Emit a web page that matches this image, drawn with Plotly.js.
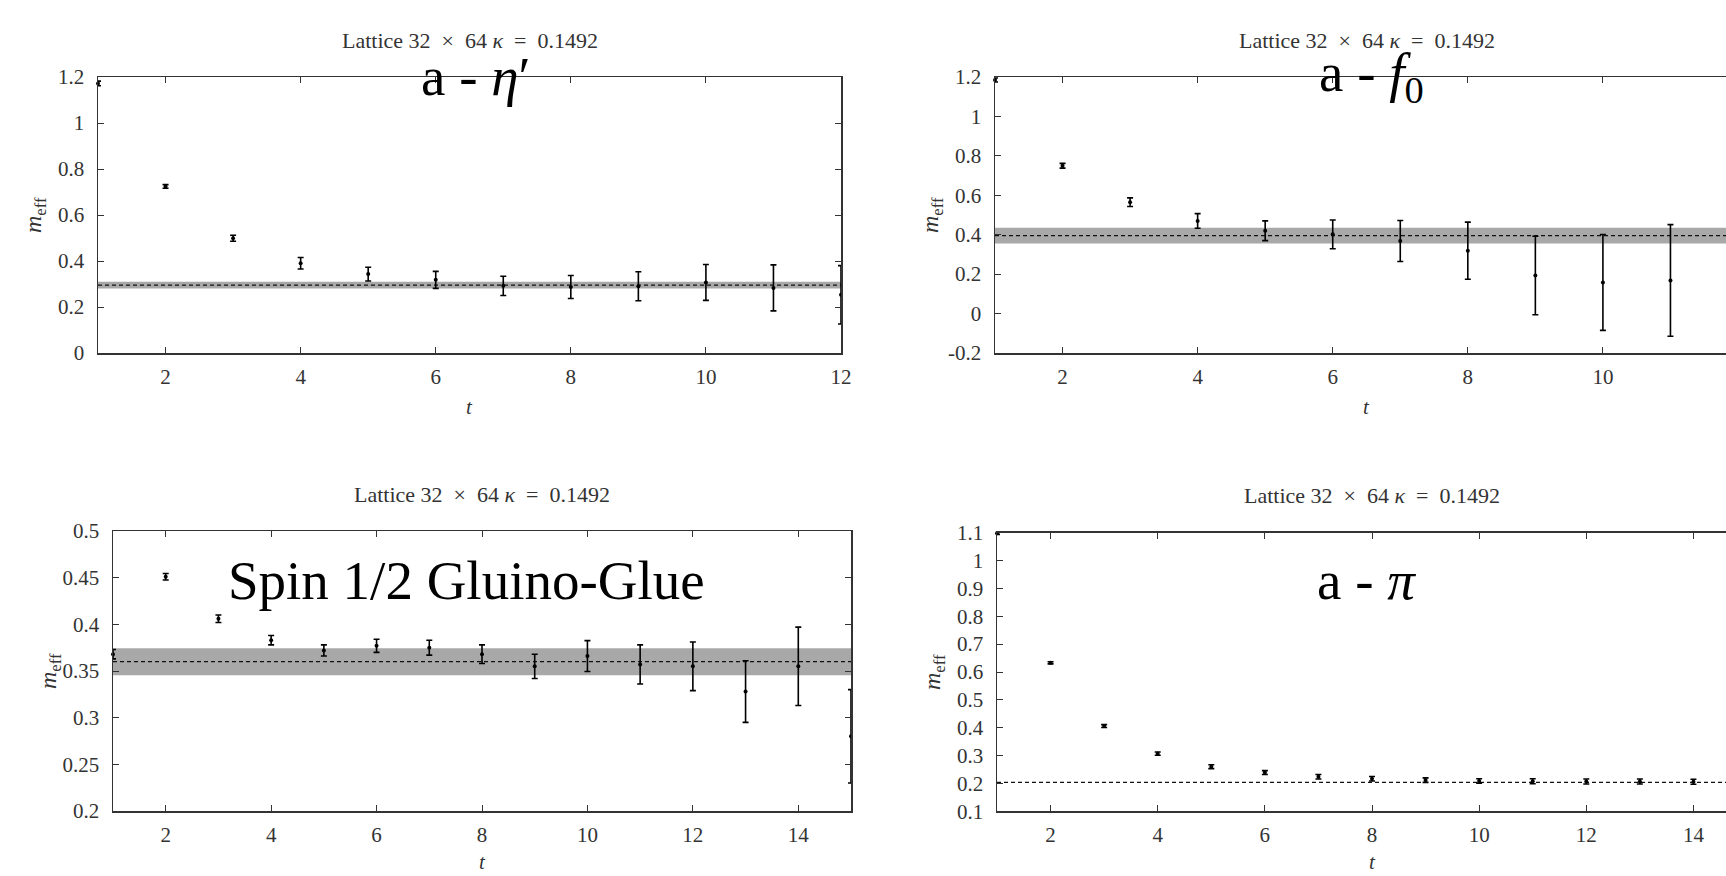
<!DOCTYPE html>
<html>
<head>
<meta charset="utf-8">
<script src="https://cdn.plot.ly/plotly-3.0.1.min.js"></script>
<style>
html,body{margin:0;padding:0;overflow:hidden;background:#fff;}
#plot{width:1760px;height:876px;}
</style>
</head>
<body>
<div id="plot"></div>
<script>
// ---------- data ----------
const etaT   = [1,2,3,4,5,6,7,8,9,10,11,12];
const etaM   = [1.172,0.724,0.499,0.390,0.343,0.318,0.292,0.287,0.290,0.307,0.283,0.253];
const etaErr = [0.010,0.008,0.013,0.025,0.030,0.037,0.042,0.050,0.063,0.078,0.100,0.127];
const etaFit = 0.295, etaFitErr = 0.015;

const f0T   = [1,2,3,4,5,6,7,8,9,10,11];
const f0M   = [1.185,0.750,0.565,0.470,0.420,0.402,0.368,0.319,0.193,0.158,0.168];
const f0Err = [0.010,0.012,0.022,0.037,0.050,0.073,0.104,0.145,0.199,0.243,0.283];
const f0Fit = 0.395, f0FitErr = 0.040;

const ggT   = [1,2,3,4,5,6,7,8,9,10,11,12,13,14,15];
const ggM   = [0.368,0.451,0.406,0.383,0.372,0.377,0.375,0.368,0.355,0.366,0.357,0.355,0.328,0.355,0.280];
const ggErr = [0.005,0.0035,0.004,0.005,0.006,0.007,0.008,0.010,0.013,0.0165,0.021,0.026,0.033,0.042,0.050];
const ggFit = 0.360, ggFitErr = 0.0145;

const piT   = [1,2,3,4,5,6,7,8,9,10,11,12,13,14];
const piM   = [1.098,0.633,0.406,0.307,0.260,0.239,0.224,0.217,0.212,0.209,0.208,0.207,0.207,0.206];
const piErr = [0.004,0.004,0.005,0.006,0.007,0.007,0.008,0.008,0.008,0.008,0.009,0.009,0.009,0.009];
const piFit = 0.204, piFitErr = 0.0;

// axis ranges and ticks
const etaXRange = [1,12], etaYRange = [0,1.2];
const f0XRange  = [1,12], f0YRange  = [-0.2,1.2];
const ggXRange  = [1,15], ggYRange  = [0.2,0.5];
const piXRange  = [1,15], piYRange  = [0.1,1.1];

const etaXTicks = [2,4,6,8,10,12];
const f0XTicks  = [2,4,6,8,10];
const ggXTicks  = [2,4,6,8,10,12,14];
const piXTicks  = [2,4,6,8,10,12,14];

const etaYTicks = [0,0.2,0.4,0.6,0.8,1,1.2];
const etaYText  = ["0","0.2","0.4","0.6","0.8","1","1.2"];
const f0YTicks  = [-0.2,0,0.2,0.4,0.6,0.8,1,1.2];
const f0YText   = ["-0.2","0","0.2","0.4","0.6","0.8","1","1.2"];
const ggYTicks  = [0.2,0.25,0.3,0.35,0.4,0.45,0.5];
const ggYText   = ["0.2","0.25","0.3","0.35","0.4","0.45","0.5"];
const piYTicks  = [0.1,0.2,0.3,0.4,0.5,0.6,0.7,0.8,0.9,1,1.1];
const piYText   = ["0.1","0.2","0.3","0.4","0.5","0.6","0.7","0.8","0.9","1","1.1"];

const panelTitle = "Lattice 32\u2002×\u200264 <i>κ</i>\u2002=\u20020.1492";
const panelLabels = ["a - <i>η</i>′", "a - <i>f</i><sub>0</sub>", "Spin 1/2 Gluino-Glue", "a - <i>π</i>"];

// ---------- layout geometry (pixels) ----------
const W = 1760, H = 876;
const px = v => v / W;
const py = v => 1 - v / H;

const boxes = [
  {l:98,  r:841,  t:77,  b:353},
  {l:995, r:1738, t:77,  b:353},
  {l:113, r:851,  t:531, b:811},
  {l:997, r:1747, t:532.7, b:811.3}
];

const FONT = "Liberation Serif, Times New Roman, serif";
const TXT = "#333";
const TICKSIZE = 21;

function bandTraces(xr, fit, err, ax) {
  const out = [];
  if (err > 0) {
    out.push({
      x:[xr[0],xr[1],xr[1],xr[0]], y:[fit-err,fit-err,fit+err,fit+err],
      xaxis:'x'+ax, yaxis:'y'+ax, type:'scatter', mode:'lines', fill:'toself',
      fillcolor:'#a8a8a8', line:{width:0,color:'#a8a8a8'}, hoverinfo:'skip', showlegend:false
    });
  }
  out.push({
    x:[xr[0],xr[1]], y:[fit,fit], xaxis:'x'+ax, yaxis:'y'+ax, type:'scatter', mode:'lines',
    line:{color:'#111',width:1.2,dash:'4px,3px'}, hoverinfo:'skip', showlegend:false
  });
  return out;
}
function pointTrace(t, m, e, ax) {
  return {
    x:t, y:m, xaxis:'x'+ax, yaxis:'y'+ax, type:'scatter', mode:'markers',
    marker:{symbol:'circle', size:4, color:'#000'},
    error_y:{type:'data', array:e, visible:true, color:'#000', thickness:1.6, width:3},
    cliponaxis:false, showlegend:false
  };
}

const traces = [].concat(
  bandTraces(etaXRange, etaFit, etaFitErr, ''),  [pointTrace(etaT, etaM, etaErr, '')],
  bandTraces(f0XRange, f0Fit, f0FitErr, '2'),    [pointTrace(f0T, f0M, f0Err, '2')],
  bandTraces(ggXRange, ggFit, ggFitErr, '3'),    [pointTrace(ggT, ggM, ggErr, '3')],
  bandTraces(piXRange, piFit, piFitErr, '4'),    [pointTrace(piT, piM, piErr, '4')]
);

function xax(b, range, anchor, vals) {
  return {
    domain:[px(b.l), px(b.r)], range:range, anchor:anchor,
    tickmode:'array', tickvals:vals,
    ticks:'inside', ticklen:6, tickwidth:1, tickcolor:'#333',
    showline:true, linecolor:'#333', linewidth:1.5, mirror:'ticks',
    showgrid:false, zeroline:false, automargin:false,
    tickfont:{family:FONT, size:TICKSIZE, color:TXT}, ticklabelstandoff:4
  };
}
function yax(b, range, anchor, vals, text) {
  return {
    domain:[py(b.b), py(b.t)], range:range, anchor:anchor,
    tickmode:'array', tickvals:vals, ticktext:text,
    ticks:'inside', ticklen:6, tickwidth:1, tickcolor:'#333',
    showline:true, linecolor:'#333', linewidth:1.5, mirror:'ticks',
    showgrid:false, zeroline:false, automargin:false,
    tickfont:{family:FONT, size:TICKSIZE, color:TXT}, ticklabelstandoff:8
  };
}

const annotations = [];
boxes.forEach((b, i) => {
  const cx = (b.l + b.r) / 2;
  annotations.push({xref:'paper', yref:'paper', x:px(cx), y:py(b.t - 37), xanchor:'center', yanchor:'middle',
    text:panelTitle, showarrow:false, font:{family:FONT, size:22, color:TXT}});
  annotations.push({xref:'paper', yref:'paper', x:px(cx), y:py(Math.min(b.b + 54, 862)), xanchor:'center', yanchor:'middle',
    text:'<i>t</i>', showarrow:false, font:{family:FONT, size:21, color:TXT}});
  annotations.push({xref:'paper', yref:'paper', x:px(b.l - 63), y:py((b.t + b.b) / 2), xanchor:'center', yanchor:'middle',
    textangle:-90, text:'<i>m</i><sub>eff</sub>', showarrow:false, font:{family:FONT, size:24, color:TXT}});
});
const labelPos = [[476, 76], [1371, 76], [467, 580], [1366, 580]];
panelLabels.forEach((txt, i) => {
  annotations.push({xref:'paper', yref:'paper', x:px(labelPos[i][0]), y:py(labelPos[i][1]),
    xanchor:'center', yanchor:'middle', text:txt, showarrow:false,
    font:{family:FONT, size:55, color:'#000'}});
});

const layout = {
  width:W, height:H, margin:{l:0,r:0,t:0,b:0},
  paper_bgcolor:'#fff', plot_bgcolor:'rgba(0,0,0,0)', showlegend:false,
  xaxis:  xax(boxes[0], etaXRange, 'y',  etaXTicks),
  yaxis:  yax(boxes[0], etaYRange, 'x',  etaYTicks, etaYText),
  xaxis2: xax(boxes[1], f0XRange, 'y2', f0XTicks),
  yaxis2: yax(boxes[1], f0YRange, 'x2', f0YTicks, f0YText),
  xaxis3: xax(boxes[2], ggXRange, 'y3', ggXTicks),
  yaxis3: yax(boxes[2], ggYRange, 'x3', ggYTicks, ggYText),
  xaxis4: xax(boxes[3], piXRange, 'y4', piXTicks),
  yaxis4: yax(boxes[3], piYRange, 'x4', piYTicks, piYText),
  annotations:annotations
};

Plotly.newPlot('plot', traces, layout, {staticPlot:true, displayModeBar:false});
</script>
</body>
</html>
